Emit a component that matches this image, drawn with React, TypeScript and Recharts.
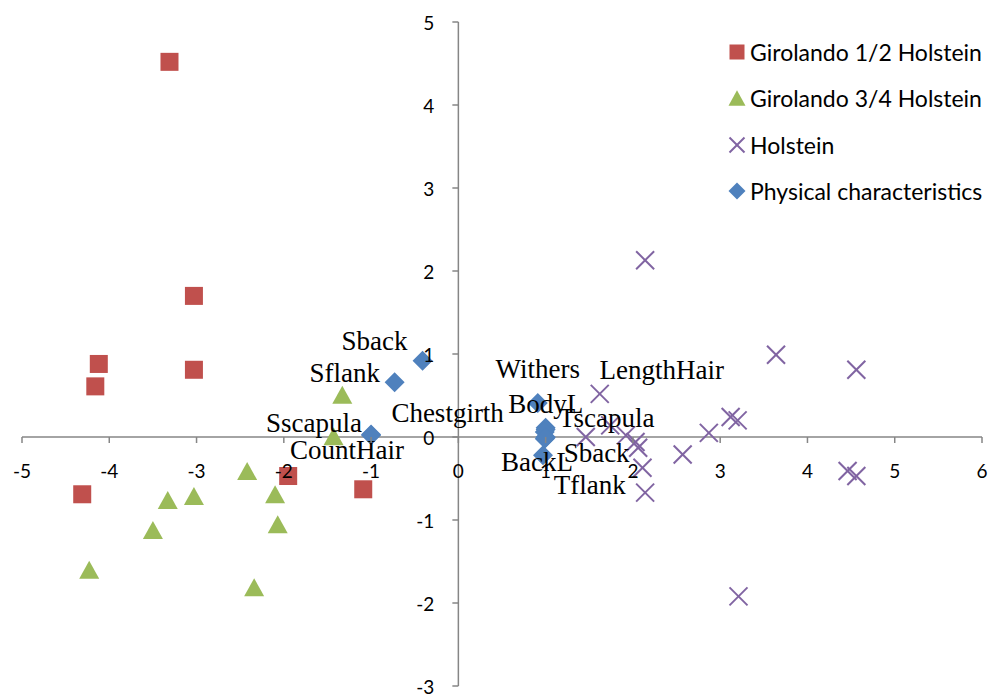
import { ScatterChart, Scatter, XAxis, YAxis, ReferenceLine, Legend } from "recharts"

// Girolando 1/2 Holstein
const halfX = [-3.31, -3.03, -3.03, -4.12, -4.16, -4.31, -1.95, -1.09]
const halfY = [4.52, 1.7, 0.81, 0.88, 0.61, -0.69, -0.47, -0.63]

// Girolando 3/4 Holstein
const threeQX = [-1.33, -1.43, -2.42, -3.33, -3.03, -3.5, -4.23, -2.1, -2.07, -2.34]
const threeQY = [0.51, 0.01, -0.41, -0.76, -0.71, -1.12, -1.6, -0.69, -1.05, -1.81]

// Holstein
const holX = [2.14, 3.64, 4.56, 1.62, 3.12, 3.2, 2.87, 2.57, 2.14, 3.21, 4.46, 4.56, 1.46, 1.74, 1.92, 2.03, 2.06, 2.11]
const holY = [2.13, 0.99, 0.81, 0.52, 0.24, 0.2, 0.05, -0.21, -0.67, -1.92, -0.41, -0.47, 0.0, 0.14, 0.02, -0.06, -0.13, -0.37]

// Physical characteristics (loadings)
const physNames = ["Sback", "Sflank", "Sscapula", "CountHair", "Withers", "BodyL", "Tscapula", "LengthHair", "Chestgirth", "Sback", "Tflank", "BackL"]
const physX = [-0.41, -0.73, -1.0, -1.0, 0.91, 1.0, 1.0, 0.99, 1.0, 1.0, 0.99, 0.97]
const physY = [0.92, 0.66, 0.03, 0.02, 0.41, 0.11, 0.09, 0.06, 0.0, -0.01, -0.02, -0.22]

const xTicks = [-5, -4, -3, -2, -1, 0, 1, 2, 3, 4, 5, 6]
const yTicks = [-3, -2, -1, 0, 1, 2, 3, 4, 5]

// label placement (dx to text centre, dy to baseline), same order as physNames
const labelOffsets = [
  [-48, -11], [-50, 0], [-57, -3], [-24, 24], [0, -25], [0, -15],
  [61, -3], [117, -53], [-98, -15], [51, 24], [45, 55], [-6, 16],
]

const W = 998
const H = 695
const M = { top: 22, right: 16, bottom: 8, left: 21 }
const PW = W - M.left - M.right - 1
const PH = H - M.top - M.bottom - 1
const ZERO_X = M.left + 1 + (PW * 5) / 11
const ZERO_Y = M.top + (PH * 5) / 8

const AXIS = "#868686"
const RED = "#C0504D"
const GREEN = "#9BBB59"
const PURPLE = "#8064A2"
const BLUE = "#4F81BD"
const SANS = "Lato, 'Open Sans', sans-serif"
const SERIF = "'Liberation Serif', 'Times New Roman', serif"

const zip = (xs: number[], ys: number[]) => xs.map((x, i) => ({ x, y: ys[i] }))
const halfData = zip(halfX, halfY)
const threeQData = zip(threeQX, threeQY)
const holData = zip(holX, holY)
const physData = physNames.map((name, i) => ({ x: physX[i], y: physY[i], name, idx: i }))

const square = (cx: number, cy: number, s: number, color: string) => (
  <rect x={cx - s / 2} y={cy - s / 2} width={s} height={s} fill={color} />
)
const triangle = (cx: number, cy: number, s: number, color: string) => (
  <polygon points={`${cx},${cy - s * 0.45} ${cx + s / 2},${cy + s * 0.45} ${cx - s / 2},${cy + s * 0.45}`} fill={color} />
)
const cross = (cx: number, cy: number, s: number, color: string) => (
  <g stroke={color} strokeWidth={2}>
    <line x1={cx - s / 2} y1={cy - s / 2} x2={cx + s / 2} y2={cy + s / 2} />
    <line x1={cx - s / 2} y1={cy + s / 2} x2={cx + s / 2} y2={cy - s / 2} />
  </g>
)
const diamond = (cx: number, cy: number, s: number, color: string) => (
  <polygon points={`${cx},${cy - s / 2} ${cx + s / 2},${cy} ${cx},${cy + s / 2} ${cx - s / 2},${cy}`} fill={color} />
)

const renderXTick = (props: any) => {
  const { x, payload } = props
  return (
    <g key={`xt-${payload.value}`}>
      <line x1={x} x2={x} y1={ZERO_Y} y2={ZERO_Y + 6} stroke={AXIS} strokeWidth={1.5} />
      <text x={x} y={ZERO_Y + 33} textAnchor="middle" dominantBaseline="central" fontFamily={SANS} fontSize={19} fill="#000">
        {payload.value}
      </text>
    </g>
  )
}

const renderYTick = (props: any) => {
  const { y, payload } = props
  return (
    <g key={`yt-${payload.value}`}>
      <line x1={ZERO_X - 6} x2={ZERO_X} y1={y} y2={y} stroke={AXIS} strokeWidth={1.5} />
      <text x={ZERO_X - 24} y={y} textAnchor="end" dominantBaseline="central" fontFamily={SANS} fontSize={19} fill="#000">
        {payload.value}
      </text>
    </g>
  )
}

const PhysShape = (props: any) => {
  const { cx, cy, payload } = props
  const [dx, dy] = labelOffsets[payload.idx]
  return (
    <g>
      {diamond(cx, cy, 20, BLUE)}
      <text x={cx + dx} y={cy + dy} textAnchor="middle" fontFamily={SERIF} fontSize={27} fill="#000">
        {payload.name}
      </text>
    </g>
  )
}

const legendItems = [
  { name: "Girolando 1/2 Holstein", marker: (c: number) => square(c, c, 15, RED) },
  { name: "Girolando 3/4 Holstein", marker: (c: number) => triangle(c, c, 17, GREEN) },
  { name: "Holstein", marker: (c: number) => cross(c, c, 15, PURPLE) },
  { name: "Physical characteristics", marker: (c: number) => diamond(c, c, 17, BLUE) },
]

const renderLegend = () => (
  <div style={{ fontFamily: SANS, fontSize: 23, color: "#000" }}>
    {legendItems.map((it) => (
      <div key={it.name} style={{ display: "flex", alignItems: "center", height: 46.3 }}>
        <svg width={18} height={18} style={{ marginRight: 4 }}>
          {it.marker(9)}
        </svg>
        <span style={{ whiteSpace: "nowrap" }}>{it.name}</span>
      </div>
    ))}
  </div>
)

export default function App() {
  return (
    <div style={{ position: "absolute", left: 0, top: 0, background: "#fff" }}>
      <ScatterChart width={W} height={H} margin={M}>
        <XAxis type="number" dataKey="x" domain={[-5, 6]} ticks={xTicks} interval={0} height={1} axisLine={false} tickLine={false} tick={renderXTick} />
        <YAxis type="number" dataKey="y" domain={[-3, 5]} ticks={yTicks} interval={0} width={1} axisLine={false} tickLine={false} tick={renderYTick} />
        <ReferenceLine y={0} stroke={AXIS} strokeWidth={1.5} />
        <ReferenceLine x={0} stroke={AXIS} strokeWidth={1.5} />
        <Legend layout="vertical" align="center" verticalAlign="middle" content={renderLegend} wrapperStyle={{ top: 29, left: 728, width: 270 }} />
        <Scatter name="Girolando 1/2 Holstein" data={halfData} isAnimationActive={false} shape={(p: any) => square(p.cx, p.cy, 18, RED)} />
        <Scatter name="Girolando 3/4 Holstein" data={threeQData} isAnimationActive={false} shape={(p: any) => triangle(p.cx, p.cy, 20, GREEN)} />
        <Scatter name="Holstein" data={holData} isAnimationActive={false} shape={(p: any) => cross(p.cx, p.cy, 18, PURPLE)} />
        <Scatter name="Physical characteristics" data={physData} isAnimationActive={false} shape={PhysShape} />
      </ScatterChart>
    </div>
  )
}
